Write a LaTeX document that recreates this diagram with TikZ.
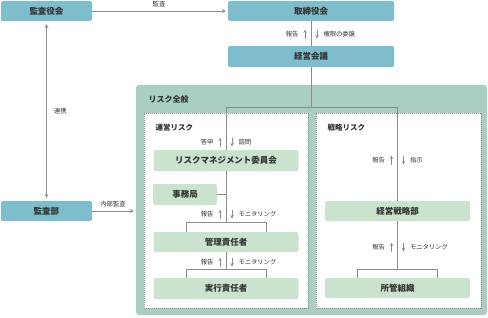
\documentclass[tikz,border=0pt]{standalone}
\usepackage{fontspec}
\setmainfont{Noto Sans CJK JP}
\usetikzlibrary{shapes,arrows,positioning,calc}
\definecolor{topblue}{HTML}{7DBDCC}
\definecolor{zonegreen}{HTML}{A9CFC1}
\definecolor{boxgreen}{HTML}{CAE3CF}
\definecolor{linegray}{HTML}{8C8C8C}
\definecolor{textgray}{HTML}{333333}

\begin{document}
\begin{tikzpicture}[
    x=1pt, y=-1pt,
    top/.style={rectangle, rounded corners=2pt, fill=topblue, inner sep=0pt, text=textgray, font=\bfseries\fontsize{8.5}{10}\selectfont},
    unit/.style={rectangle, rounded corners=2pt, fill=boxgreen, inner sep=0pt, text=textgray, font=\bfseries\fontsize{8.5}{10}\selectfont},
    zone/.style={rectangle, rounded corners=3pt, fill=zonegreen, inner sep=0pt},
    field/.style={rectangle, fill=white, draw=linegray, dash pattern=on 1.2pt off 0.8pt, line width=0.6pt, inner sep=0pt},
    title/.style={anchor=west, text=textgray, font=\bfseries\fontsize{7.5}{9}\selectfont},
    token/.style={text=textgray, font=\fontsize{6.3}{7}\selectfont},
    arrow/.style={->, >=stealth, linegray, line width=0.7pt},
    link/.style={linegray, line width=0.7pt},
    tick/.style={->, >=stealth, linegray, line width=0.6pt}
]
\useasboundingbox (0,0) rectangle (488,317);

\node[top, minimum width=91pt, minimum height=20pt] (kansayaku) at (46.5,11) {監査役会};
\node[top, minimum width=166pt, minimum height=20pt] (torishimari) at (311,11) {取締役会};
\node[top, minimum width=166pt, minimum height=21pt] (kaigi) at (311,56.5) {経営会議};
\node[top, minimum width=91pt, minimum height=20pt] (kansabu) at (46.5,211) {監査部};

\node[zone, minimum width=351pt, minimum height=230pt] (zenpan) at (311.5,200) {};
\node[title, font=\bfseries\fontsize{8}{9}\selectfont] (zenpantitle) at (145,99) {リスク全般};
\node[field, minimum width=164pt, minimum height=195pt] (unei) at (226,210.5) {};
\node[field, minimum width=165pt, minimum height=195pt] (senryaku) at (398.5,210.5) {};
\node[title] (ueititle) at (152,128) {運営リスク};
\node[title] (senryakutitle) at (324,128) {戦略リスク};

\node[unit, minimum width=145pt, minimum height=21pt] (iinkai) at (226,160.5) {リスクマネジメント委員会};
\node[unit, minimum width=64pt, minimum height=21pt] (jimu) at (185,194.5) {事務局};
\node[unit, minimum width=145pt, minimum height=20pt] (kanri) at (226,242) {管理責任者};
\node[unit, minimum width=145pt, minimum height=21pt] (jikko) at (226,288.5) {実行責任者};
\node[unit, minimum width=145pt, minimum height=20pt] (senryakubu) at (397.5,211) {経営戦略部};
\node[unit, minimum width=145pt, minimum height=20pt] (shokan) at (397.5,288) {所管組織};

\coordinate (jl) at (226,107);
\coordinate (jr) at (397.5,107);

\draw[arrow] (kansayaku.east) -- node[above, token] {監査} ([xshift=-2pt]torishimari.west);
\draw[arrow, <->] ([yshift=-3pt]kansayaku.south) -- node[right=4pt, token] {連携} ([yshift=3pt]kansabu.north);
\draw[arrow] (kansabu.east) -- node[above, token] {内部監査} ([xshift=-2pt]kansabu.east -| zenpan.west);
\draw[link] (torishimari.south) -- (kaigi.north);
\draw[link] (kaigi.south) -- (kaigi.south |- jl);
\draw[link] (jl) -- (jr);
\draw[link] (jl) -- (iinkai.north);
\draw[link] (iinkai.south) -- ++(0,52);
\draw[link] (jimu.east) -- (jimu.east -| iinkai.south);
\draw[link] ($(kanri.north)+(-40,0)$) -- ++(0,-9) -- ++(80,0) -- ++(0,9);
\draw[link] (kanri.south) -- ++(0,18);
\draw[link] ($(jikko.north)+(-40,0)$) -- ++(0,-8) -- ++(80,0) -- ++(0,8);
\draw[link] (jr) -- (senryakubu.north);
\draw[link] (senryakubu.south) -- ++(0,49);
\draw[link] ($(shokan.north)+(-40,0)$) -- ++(0,-8) -- ++(80,0) -- ++(0,8);

\foreach \x/\y/\up/\down in {311/34/報告/権限の委譲, 226/142/答申/諮問, 226/214/報告/モニタリング, 226/262/報告/モニタリング, 397.5/160/報告/指示, 397.5/247/報告/モニタリング} {
    \draw[tick] (\x-6,\y+4.5) -- (\x-6,\y-4.5);
    \draw[tick] (\x+6,\y-4.5) -- (\x+6,\y+4.5);
    \node[token, anchor=east] at (\x-9,\y) {\up};
    \node[token, anchor=west] at (\x+9,\y) {\down};
}
\end{tikzpicture}
\end{document}
